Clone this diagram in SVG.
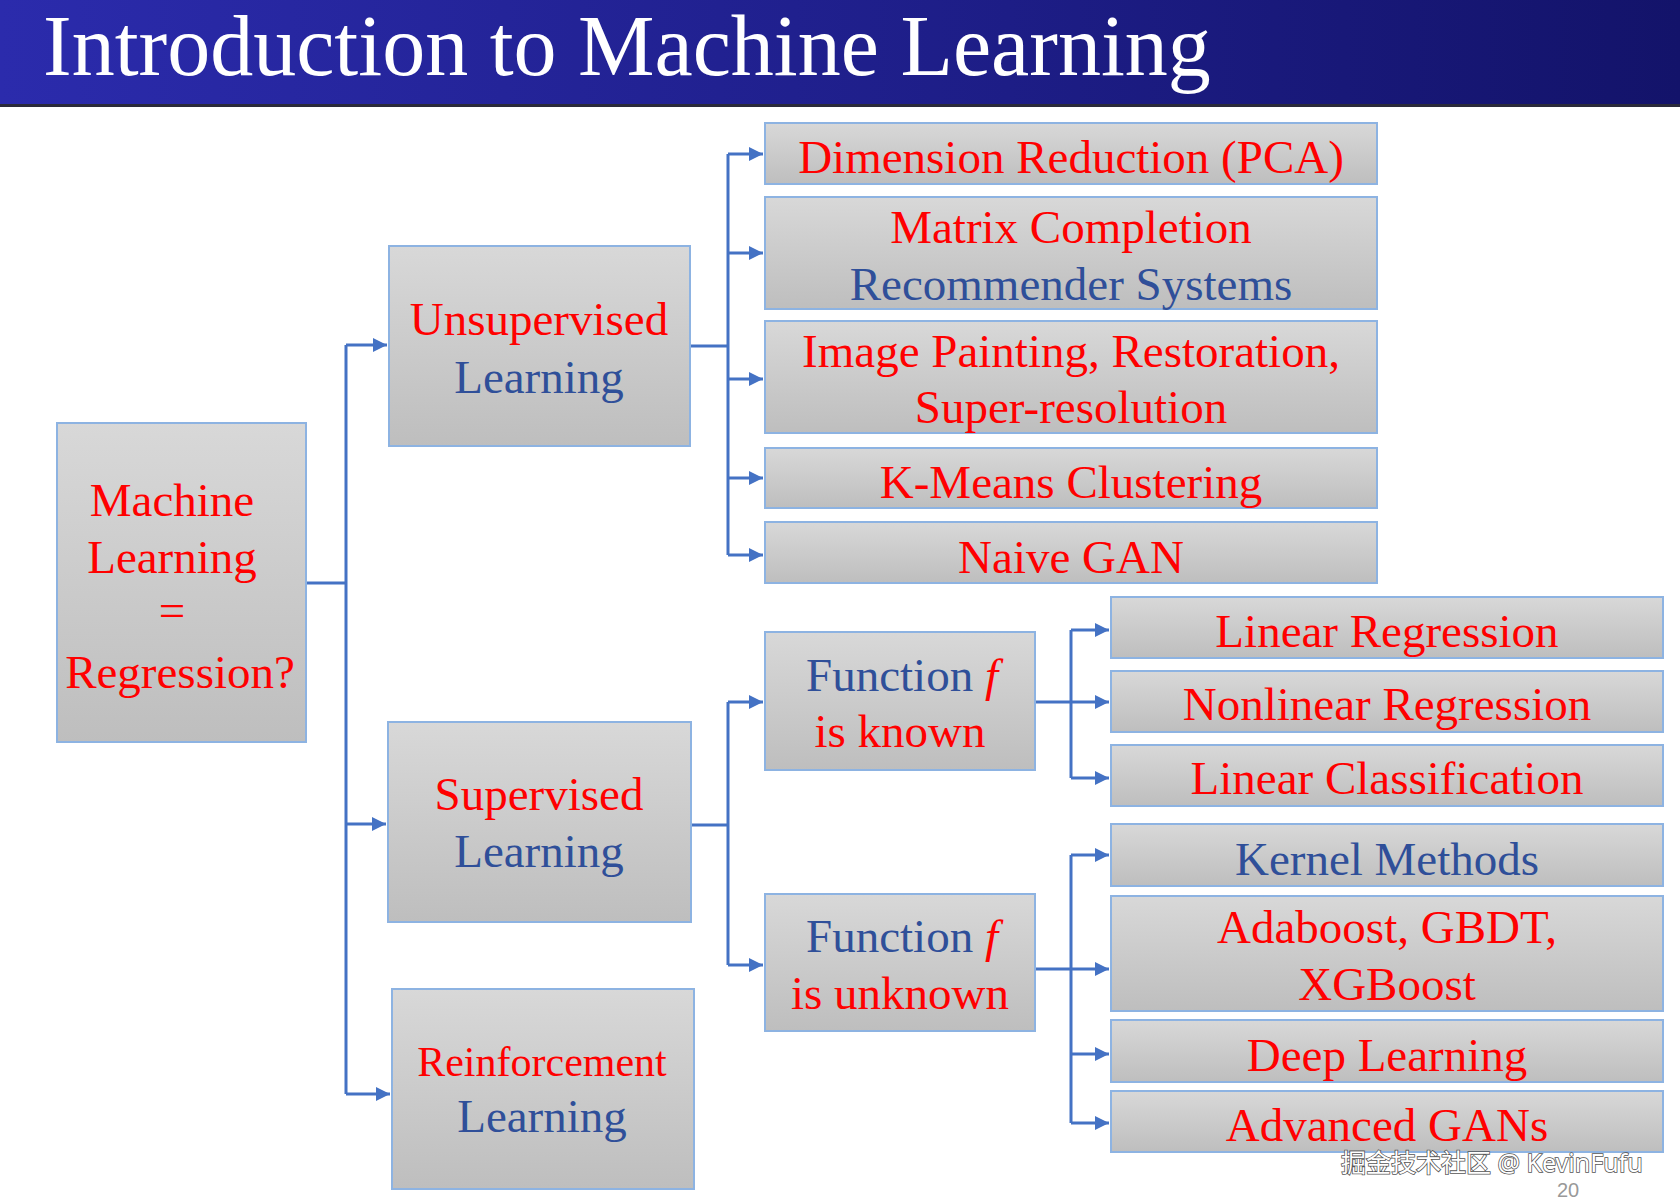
<svg xmlns="http://www.w3.org/2000/svg" width="1680" height="1204" viewBox="0 0 1680 1204">
<defs>
<linearGradient id="hdr" x1="0" y1="0" x2="1" y2="0">
<stop offset="0" stop-color="#2b2bac"/>
<stop offset="0.6" stop-color="#1d1d86"/>
<stop offset="1" stop-color="#13136a"/>
</linearGradient>
<linearGradient id="box" x1="0" y1="0" x2="0" y2="1">
<stop offset="0" stop-color="#d8d8d8"/>
<stop offset="1" stop-color="#bebebe"/>
</linearGradient>
<marker id="arr" viewBox="0 0 10 10" refX="10" refY="5" markerWidth="14" markerHeight="14" markerUnits="userSpaceOnUse" orient="auto">
<path d="M0,0 L10,5 L0,10 z" fill="#4472c4"/>
</marker>
<style>
.bx{fill:url(#box);stroke:#8db3e2;stroke-width:2}
.t{font-family:"Liberation Serif","Times New Roman",serif;font-size:47px;text-anchor:middle}
.sm{font-size:42px}
.r{fill:#ff0000}
.b{fill:#2f4f99}
.c{fill:none;stroke:#4472c4;stroke-width:3}
.a{fill:none;stroke:#4472c4;stroke-width:3;marker-end:url(#arr)}
</style>
</defs>
<rect x="0" y="0" width="1680" height="1204" fill="#ffffff"/>
<g id="header">
<rect x="0" y="0" width="1680" height="105" fill="url(#hdr)"/>
<rect x="0" y="104" width="1680" height="3" fill="#2a2a3a"/>
<text x="43" y="75" font-family="'Liberation Serif','Times New Roman',serif" font-size="86" fill="#ffffff">Introduction to Machine Learning</text>
</g>
<g id="connectors">
<path class="c" d="M306,583 H346"/>
<path class="c" d="M346,345 V1094"/>
<path class="a" d="M346,345 H387"/>
<path class="a" d="M346,824 H386"/>
<path class="a" d="M346,1094 H390"/>
<path class="c" d="M690,346 H728"/>
<path class="c" d="M728,154 V555"/>
<path class="a" d="M728,154 H763"/>
<path class="a" d="M728,253 H763"/>
<path class="a" d="M728,379 H763"/>
<path class="a" d="M728,478 H763"/>
<path class="a" d="M728,555 H763"/>
<path class="c" d="M691,825 H728"/>
<path class="c" d="M728,702 V965"/>
<path class="a" d="M728,702 H763"/>
<path class="a" d="M728,965 H763"/>
<path class="c" d="M1035,702 H1071"/>
<path class="c" d="M1071,630 V778"/>
<path class="a" d="M1071,630 H1109"/>
<path class="a" d="M1071,702 H1109"/>
<path class="a" d="M1071,778 H1109"/>
<path class="c" d="M1035,969 H1071"/>
<path class="c" d="M1071,855 V1123"/>
<path class="a" d="M1071,855 H1109"/>
<path class="a" d="M1071,969 H1109"/>
<path class="a" d="M1071,1054 H1109"/>
<path class="a" d="M1071,1123 H1109"/>
</g>
<g id="ml">
<rect class="bx" x="57" y="423" width="249" height="319"/>
<text class="t r" x="172" y="516">Machine</text>
<text class="t r" x="172" y="573">Learning</text>
<text class="t r" x="172" y="626">=</text>
<text class="t r" x="180" y="688">Regression?</text>
</g>
<g id="unsupervised">
<rect class="bx" x="389" y="246" width="301" height="200"/>
<text class="t r" x="539" y="335">Unsupervised</text>
<text class="t b" x="539" y="393">Learning</text>
</g>
<g id="supervised">
<rect class="bx" x="388" y="722" width="303" height="200"/>
<text class="t r" x="539" y="810">Supervised</text>
<text class="t b" x="539" y="867">Learning</text>
</g>
<g id="reinforcement">
<rect class="bx" x="392" y="989" width="302" height="200"/>
<text class="t sm r" x="542" y="1076">Reinforcement</text>
<text class="t b" x="542" y="1132">Learning</text>
</g>
<g id="pca">
<rect class="bx" x="765" y="123" width="612" height="61"/>
<text class="t r" x="1071" y="173">Dimension Reduction (PCA)</text>
</g>
<g id="matrix">
<rect class="bx" x="765" y="197" width="612" height="112"/>
<text class="t r" x="1071" y="243">Matrix Completion</text>
<text class="t b" x="1071" y="300">Recommender Systems</text>
</g>
<g id="image">
<rect class="bx" x="765" y="321" width="612" height="112"/>
<text class="t r" x="1071" y="367">Image Painting, Restoration,</text>
<text class="t r" x="1071" y="423">Super-resolution</text>
</g>
<g id="kmeans">
<rect class="bx" x="765" y="448" width="612" height="60"/>
<text class="t r" x="1071" y="498">K-Means Clustering</text>
</g>
<g id="gan">
<rect class="bx" x="765" y="522" width="612" height="61"/>
<text class="t r" x="1071" y="573">Naive GAN</text>
</g>
<g id="known">
<rect class="bx" x="765" y="632" width="270" height="138"/>
<text class="t" x="902" y="691"><tspan class="b">Function </tspan><tspan class="r" font-style="italic">f</tspan></text>
<text class="t r" x="900" y="747">is known</text>
</g>
<g id="unknown">
<rect class="bx" x="765" y="894" width="270" height="137"/>
<text class="t" x="902" y="952"><tspan class="b">Function </tspan><tspan class="r" font-style="italic">f</tspan></text>
<text class="t r" x="900" y="1009">is unknown</text>
</g>
<g id="linreg">
<rect class="bx" x="1111" y="597" width="552" height="61"/>
<text class="t r" x="1387" y="647">Linear Regression</text>
</g>
<g id="nonlinreg">
<rect class="bx" x="1111" y="671" width="552" height="61"/>
<text class="t r" x="1387" y="720">Nonlinear Regression</text>
</g>
<g id="linclass">
<rect class="bx" x="1111" y="745" width="552" height="61"/>
<text class="t r" x="1387" y="794">Linear Classification</text>
</g>
<g id="kernel">
<rect class="bx" x="1111" y="824" width="552" height="62"/>
<text class="t b" x="1387" y="875">Kernel Methods</text>
</g>
<g id="boost">
<rect class="bx" x="1111" y="896" width="552" height="115"/>
<text class="t r" x="1387" y="943">Adaboost, GBDT,</text>
<text class="t r" x="1387" y="1000">XGBoost</text>
</g>
<g id="deep">
<rect class="bx" x="1111" y="1020" width="552" height="62"/>
<text class="t r" x="1387" y="1071">Deep Learning</text>
</g>
<g id="agan">
<rect class="bx" x="1111" y="1091" width="552" height="61"/>
<text class="t r" x="1387" y="1141">Advanced GANs</text>
</g>
<g id="watermark">
<text x="1341" y="1172" font-family="'Noto Sans','Noto Sans CJK SC',sans-serif" font-size="25" fill="#ffffff" stroke="#555555" stroke-width="1.6" paint-order="stroke">掘金技术社区 @ KevinFufu</text>
<text x="1568" y="1197" font-family="'Liberation Sans',Arial,sans-serif" font-size="20" fill="#999999" text-anchor="middle">20</text>
</g>
</svg>
